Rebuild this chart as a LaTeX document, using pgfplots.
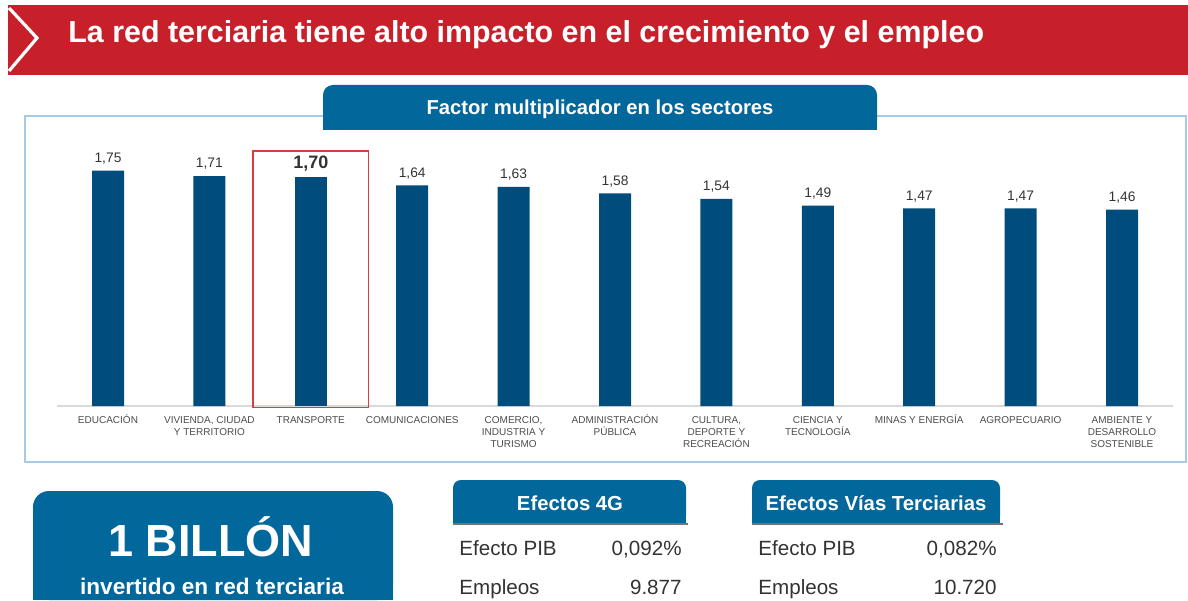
\documentclass[border=0pt]{standalone}
\usepackage{pgfplots}
\pgfplotsset{compat=1.18}
\usepackage{fontspec}
\setmainfont{Liberation Sans}
\definecolor{banner}{HTML}{C8202A}
\definecolor{tabblue}{HTML}{02679B}
\definecolor{barblue}{HTML}{004C7C}
\definecolor{frameblue}{HTML}{A6CBE8}
\definecolor{txt}{HTML}{333333}
\definecolor{lab}{HTML}{4D4D4D}
\definecolor{hl}{HTML}{E0393E}
\newcommand{\tl}[1]{\begin{tabular}[t]{@{}c@{}}#1\end{tabular}}
\begin{document}
\begin{tikzpicture}[x=0.5pt,y=0.5pt]
\path[use as bounding box, fill=white] (0,0) rectangle (1188,600);
% banner
\fill[banner] (8,525) rectangle (1188,595);
\draw[white, line width=1.6pt] (9,592) -- (37,562) -- (9,529);
\node[anchor=base west, text=white, font=\bfseries\fontsize{15.2}{18}\selectfont, inner sep=0] at (68,557) {La red terciaria tiene alto impacto en el crecimiento y el empleo};
% frame
\draw[frameblue, line width=0.8pt] (25,138) rectangle (1186,484);
% tab
\fill[tabblue, rounded corners=5pt] (323,470) rectangle (877,515);
\fill[tabblue] (323,470) rectangle (877,485);
\node[text=white, font=\bfseries\fontsize{10.1}{12}\selectfont, inner sep=0] at (600,491) {Factor multiplicador en los sectores};
% chart
\begin{axis}[
  at={(28.65pt,97pt)}, anchor=south west,
  width=557.7pt, height=134.5pt, scale only axis,
  xmin=-0.5, xmax=10.5, ymin=0, ymax=2,
  axis x line*=bottom, axis y line=none,
  x axis line style={draw=black!15, line width=0.6pt, -},
  ytick=\empty,
  xtick={0,1,2,3,4,5,6,7,8,9,10},
  major tick length=0pt,
  xticklabels={{\tl{EDUCACIÓN}},{\tl{VIVIENDA, CIUDAD\\Y TERRITORIO}},{\tl{TRANSPORTE}},{\tl{COMUNICACIONES}},{\tl{COMERCIO,\\INDUSTRIA Y\\TURISMO}},{\tl{ADMINISTRACIÓN\\PÚBLICA}},{\tl{CULTURA,\\DEPORTE Y\\RECREACIÓN}},{\tl{CIENCIA Y\\TECNOLOGÍA}},{\tl{MINAS Y ENERGÍA}},{\tl{AGROPECUARIO}},{\tl{AMBIENTE Y\\DESARROLLO\\SOSTENIBLE}}},
  xticklabel style={anchor=base, inner sep=0pt, yshift=-8.5pt, text=lab, font=\fontsize{5}{6}\selectfont},
  /pgf/number format/assume math mode=true,
  ybar, bar width=16pt, bar shift=0pt,
  clip=false,
]
\addplot[fill=barblue, draw=none,
  nodes near coords={\pgfmathprintnumber[use comma,fixed,fixed zerofill,precision=2]{\pgfplotspointmeta}},
  every node near coord/.append style={anchor=south, inner sep=0pt, yshift=3pt, text=txt, font=\fontsize{6.9}{8}\selectfont}]
  coordinates {(0,1.75) (1,1.71) (3,1.64) (4,1.63) (5,1.58) (6,1.54) (7,1.49) (8,1.47) (9,1.47) (10,1.46)};
\addplot[fill=barblue, draw=none,
  nodes near coords={\pgfmathprintnumber[use comma,fixed,fixed zerofill,precision=2]{\pgfplotspointmeta}},
  every node near coord/.append style={anchor=south, inner sep=0pt, yshift=2.8pt, text=txt, font=\bfseries\fontsize{9}{10}\selectfont}]
  coordinates {(2,1.70)};
\draw[hl, line width=0.55pt] (axis cs:1.43,-0.012) rectangle (axis cs:2.57,1.896);
\end{axis}
% big box
\fill[tabblue, rounded corners=8pt] (33,0) rectangle (393,109);
\fill[tabblue] (33,0) rectangle (393,40);
\node[anchor=base, text=white, font=\bfseries\fontsize{22.5}{26}\selectfont, inner sep=0] at (211,44) {1 BILLÓN};
\node[anchor=base, text=white, font=\bfseries\fontsize{11.3}{13}\selectfont, inner sep=0] at (212,6) {invertido en red terciaria};
% table 1
\fill[tabblue, rounded corners=4pt] (453,76) rectangle (686,120);
\fill[tabblue] (453,76) rectangle (686,95);
\draw[black!55, line width=0.6pt] (453,76) -- (688,76);
\node[anchor=base, text=white, font=\bfseries\fontsize{10.15}{12}\selectfont, inner sep=0] at (570,90) {Efectos 4G};
\node[anchor=base west, text=txt, font=\fontsize{10.3}{12}\selectfont, inner sep=0] at (459,45) {Efecto PIB};
\node[anchor=base east, text=txt, font=\fontsize{10.3}{12}\selectfont, inner sep=0] at (682,45) {0,092\%};
\node[anchor=base west, text=txt, font=\fontsize{10.3}{12}\selectfont, inner sep=0] at (459,6) {Empleos};
\node[anchor=base east, text=txt, font=\fontsize{10.3}{12}\selectfont, inner sep=0] at (682,6) {9.877};
% table 2
\fill[tabblue, rounded corners=4pt] (752,76) rectangle (1000,120);
\fill[tabblue] (752,76) rectangle (1000,95);
\draw[black!55, line width=0.6pt] (752,76) -- (1003,76);
\node[anchor=base, text=white, font=\bfseries\fontsize{10.15}{12}\selectfont, inner sep=0] at (876,90) {Efectos Vías Terciarias};
\node[anchor=base west, text=txt, font=\fontsize{10.3}{12}\selectfont, inner sep=0] at (758,45) {Efecto PIB};
\node[anchor=base east, text=txt, font=\fontsize{10.3}{12}\selectfont, inner sep=0] at (997,45) {0,082\%};
\node[anchor=base west, text=txt, font=\fontsize{10.3}{12}\selectfont, inner sep=0] at (758,6) {Empleos};
\node[anchor=base east, text=txt, font=\fontsize{10.3}{12}\selectfont, inner sep=0] at (997,6) {10.720};
\end{tikzpicture}
\end{document}
